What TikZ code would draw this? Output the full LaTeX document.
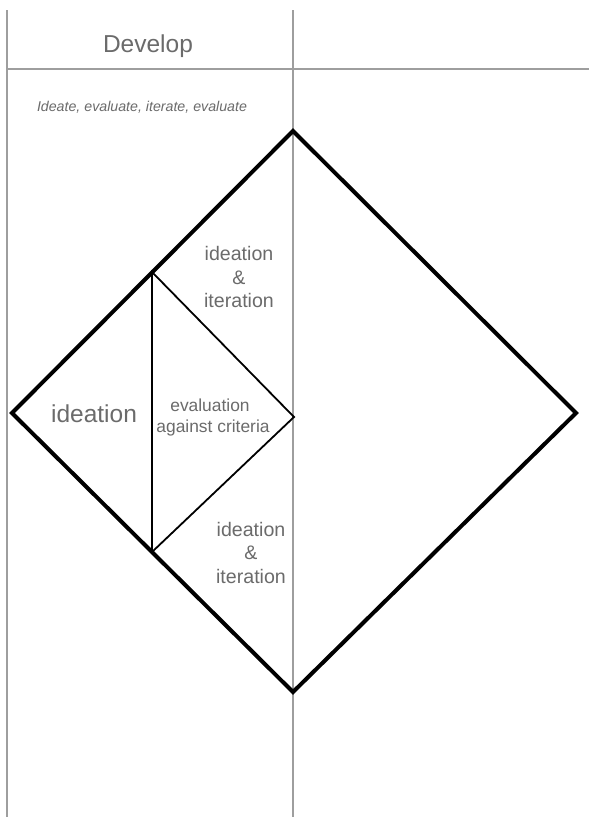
\documentclass[tikz,border=0pt]{standalone}
\usepackage{fontspec}
\setmainfont{Liberation Sans}
\begin{document}
\begin{tikzpicture}[x=1pt,y=-1pt,
  grid/.style={draw=black!38, line width=1.6pt},
  outer/.style={draw=black, line width=4pt, line join=miter},
  inner/.style={draw=black, line width=1.8pt, line join=miter},
  lbl/.style={text=black!58, inner sep=0pt, anchor=base},
  side/.style={lbl, font=\fontsize{19.6}{23}\selectfont},
]
\useasboundingbox[fill=white] (0,0) rectangle (589,817);

% column grid
\coordinate (lt) at (7,10);   \coordinate (lb) at (7,817);
\coordinate (mt) at (293,10); \coordinate (mb) at (293,817);
\coordinate (hl) at (7,69);   \coordinate (hr) at (589,69);
\draw[grid] (lt) -- (lb);
\draw[grid] (mt) -- (mb);
\draw[grid] (hl) -- (hr);

% header and subtitle
\node[lbl, font=\fontsize{24.5}{28}\selectfont] (title) at (148,52) {Develop};
\node[lbl, font=\itshape\fontsize{14.2}{17}\selectfont] (sub) at (142,111) {Ideate, evaluate, iterate, evaluate};

% outer diamond
\coordinate (dt) at (293,131);
\coordinate (dr) at (576,413);
\coordinate (db) at (293,692);
\coordinate (dl) at (12,413);
\draw[outer] (dt) -- (dr) -- (db) -- (dl) -- cycle;

% inner triangle
\coordinate (tt) at (152,272);
\coordinate (tr) at (294,417);
\coordinate (tb) at (152,552);
\draw[inner] (tt) -- (tr) -- (tb) -- cycle;

% labels
\node[lbl, font=\fontsize{24.5}{28}\selectfont] (idea) at (94,422) {ideation};
\node[lbl, font=\fontsize{17.4}{20}\selectfont] (eval1) at (210,411) {evaluation};
\node[lbl, font=\fontsize{17.4}{20}\selectfont] (eval2) at (213,432) {against criteria};

\node[side] (ua) at (239,260) {ideation};
\node[side] (ub) at (239,284) {\&};
\node[side] (uc) at (239,307) {iteration};

\node[side] (la) at (251,536) {ideation};
\node[side] (lb2) at (251,559) {\&};
\node[side] (lc) at (251,583) {iteration};
\end{tikzpicture}
\end{document}
